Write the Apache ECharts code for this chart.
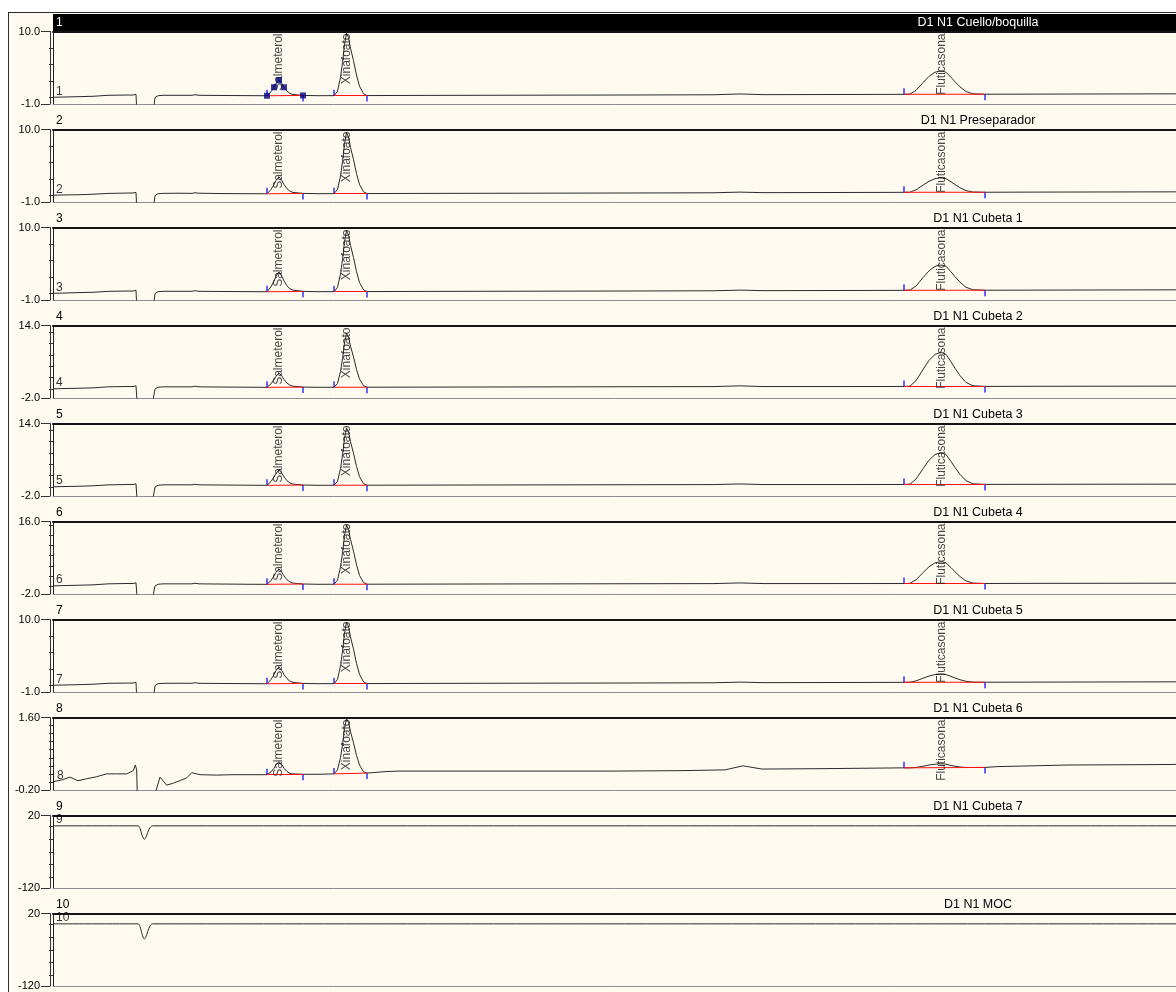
<!DOCTYPE html>
<html>
<head>
<meta charset="utf-8">
<title>D1 N1 - Cromatogramas</title>
<script src="https://cdn.jsdelivr.net/npm/echarts@6/dist/echarts.min.js"></script>
<style>
  html, body { margin: 0; padding: 0; background: #ffffff; overflow: hidden; }
  #chart { width: 1176px; height: 992px; }
</style>
</head>
<body>
<div id="chart"></div>
<script>
// ---- Panel captions and vertical ranges ----
const panelNumbers = ['1', '2', '3', '4', '5', '6', '7', '8', '9', '10'];
const panelTitles = [
  'D1 N1 Cuello/boquilla', 'D1 N1 Preseparador', 'D1 N1 Cubeta 1', 'D1 N1 Cubeta 2',
  'D1 N1 Cubeta 3', 'D1 N1 Cubeta 4', 'D1 N1 Cubeta 5', 'D1 N1 Cubeta 6',
  'D1 N1 Cubeta 7', 'D1 N1 MOC'
];
const yMin = [-1, -1, -1, -2, -2, -2, -1, -0.2, -120, -120];
const yMax = [10, 10, 10, 14, 14, 16, 10, 1.6, 20, 20];
const yDecimals = [1, 1, 1, 1, 1, 1, 1, 2, 0, 0];
const yMinorTicks = [
  [0, 2.5, 5, 7.5], [0, 2.5, 5, 7.5], [0, 2.5, 5, 7.5],
  [0, 2.5, 5, 7.5, 10, 12.5], [0, 2.5, 5, 7.5, 10, 12.5],
  [0, 2.5, 5, 7.5, 10, 12.5, 15], [0, 2.5, 5, 7.5],
  [0, 0.2, 0.4, 0.6, 0.8, 1.0, 1.2, 1.4],
  [-100, -75, -50, -25, 0], [-100, -75, -50, -25, 0]
];

// ---- Retention time (min) sampling shared by traces 1-7 ----
const tMain = [
  0.00, 0.12, 0.25, 0.40, 0.55, 0.72, 0.80, 0.83, 0.84, 0.85, 0.86, 0.99, 1.00, 1.02, 1.05, 1.10, 1.25, 1.39, 1.42, 1.46, 1.70, 1.95,
  2.14, 2.18, 2.21, 2.23, 2.26, 2.29, 2.31, 2.34, 2.37, 2.40, 2.50, 2.65,
  2.81, 2.845, 2.875, 2.895, 2.915, 2.935, 2.955, 2.975, 3.005, 3.035, 3.065, 3.105, 3.14,
  3.60, 4.60, 5.60, 6.60, 6.87, 7.10, 7.80, 8.40,
  8.51, 8.57, 8.63, 8.70, 8.76, 8.82, 8.86, 8.89, 8.93, 8.98, 9.02, 9.07, 9.13, 9.20, 9.32,
  9.80, 10.5, 11.5
];

// ---- Detector response, traces 1-7 ----
const trace1 = [
  0.02, 0.06, 0.11, 0.17, 0.32, 0.36, 0.36, 0.47, 0.71, -6, -6, -6, -2.5, -0.02, 0.26, 0.32, 0.32, 0.32, 0.41, 0.32, 0.29, 0.27,
  0.25, 0.84, 1.54, 2.08, 2.6, 2.06, 1.54, 0.96, 0.6, 0.44, 0.3, 0.26,
  0.27, 0.93, 3.02, 5.29, 8.03, 9.74, 9.08, 7.47, 5.57, 3.4, 1.69, 0.55, 0.28,
  0.3, 0.33, 0.36, 0.4, 0.52, 0.42, 0.44, 0.46,
  0.47, 0.51, 1.07, 2.24, 3.19, 3.82, 3.96, 4.0, 3.82, 3.05, 2.38, 1.6, 0.89, 0.54, 0.48,
  0.5, 0.52, 0.55
];
const trace2 = [
  0.03, 0.07, 0.1, 0.18, 0.3, 0.35, 0.37, 0.46, 0.7, -6, -6, -6, -2.5, -0.02, 0.25, 0.31, 0.33, 0.31, 0.4, 0.33, 0.28, 0.26,
  0.25, 0.89, 1.65, 2.24, 2.8, 2.21, 1.65, 1.02, 0.63, 0.45, 0.3, 0.26,
  0.27, 0.92, 2.95, 5.16, 7.84, 9.5, 8.85, 7.28, 5.44, 3.32, 1.65, 0.55, 0.28,
  0.3, 0.33, 0.36, 0.4, 0.5, 0.42, 0.44, 0.46,
  0.47, 0.49, 0.84, 1.56, 2.15, 2.54, 2.63, 2.65, 2.54, 2.06, 1.65, 1.17, 0.73, 0.51, 0.48,
  0.5, 0.52, 0.55
];
const trace3 = [
  0.02, 0.06, 0.12, 0.17, 0.31, 0.36, 0.36, 0.47, 0.72, -6, -6, -6, -2.5, -0.02, 0.26, 0.32, 0.32, 0.32, 0.41, 0.32, 0.29, 0.27,
  0.25, 1.0, 1.9, 2.59, 3.25, 2.56, 1.9, 1.15, 0.7, 0.49, 0.31, 0.26,
  0.27, 0.92, 2.95, 5.16, 7.84, 9.5, 8.85, 7.28, 5.44, 3.32, 1.65, 0.55, 0.28,
  0.3, 0.33, 0.36, 0.4, 0.5, 0.42, 0.44, 0.46,
  0.47, 0.51, 1.12, 2.39, 3.42, 4.11, 4.26, 4.3, 4.11, 3.27, 2.54, 1.7, 0.93, 0.55, 0.48,
  0.5, 0.52, 0.55
];
const trace4 = [
  0.02, 0.09, 0.15, 0.24, 0.46, 0.53, 0.53, 0.69, 1.04, -6, -6, -6, -2.5, -0.02, 0.38, 0.46, 0.46, 0.46, 0.6, 0.46, 0.42, 0.38,
  0.35, 1.14, 2.08, 2.81, 3.5, 2.78, 2.08, 1.3, 0.82, 0.6, 0.41, 0.36,
  0.37, 1.21, 3.83, 6.69, 10.15, 12.3, 11.46, 9.44, 7.05, 4.31, 2.16, 0.73, 0.38,
  0.4, 0.44, 0.48, 0.52, 0.68, 0.53, 0.53, 0.54,
  0.55, 0.62, 1.82, 4.28, 6.29, 7.63, 7.93, 8.0, 7.63, 5.99, 4.57, 2.93, 1.44, 0.7, 0.56,
  0.58, 0.6, 0.62
];
const trace5 = [
  0.03, 0.09, 0.14, 0.25, 0.45, 0.53, 0.54, 0.68, 1.03, -6, -6, -6, -2.5, -0.02, 0.38, 0.46, 0.47, 0.46, 0.6, 0.46, 0.42, 0.38,
  0.35, 1.2, 2.22, 3.0, 3.75, 2.97, 2.22, 1.37, 0.86, 0.62, 0.42, 0.36,
  0.37, 1.25, 4.03, 7.06, 10.73, 13.0, 12.12, 9.97, 7.44, 4.54, 2.26, 0.75, 0.38,
  0.4, 0.44, 0.48, 0.52, 0.66, 0.53, 0.53, 0.54,
  0.55, 0.62, 1.73, 4.03, 5.9, 7.15, 7.43, 7.5, 7.15, 5.62, 4.3, 2.77, 1.38, 0.69, 0.56,
  0.58, 0.6, 0.62
];
const trace6 = [
  0.02, 0.1, 0.17, 0.27, 0.52, 0.6, 0.6, 0.77, 1.17, -6, -6, -6, -2.5, -0.02, 0.42, 0.52, 0.52, 0.52, 0.67, 0.52, 0.47, 0.42,
  0.4, 1.35, 2.49, 3.36, 4.2, 3.33, 2.49, 1.54, 0.97, 0.7, 0.48, 0.41,
  0.42, 1.45, 4.68, 8.2, 12.46, 15.1, 14.07, 11.58, 8.64, 5.26, 2.62, 0.86, 0.43,
  0.45, 0.5, 0.54, 0.58, 0.75, 0.59, 0.59, 0.6,
  0.6, 0.65, 1.52, 3.3, 4.76, 5.73, 5.95, 6.0, 5.73, 4.54, 3.52, 2.33, 1.25, 0.71, 0.61,
  0.64, 0.66, 0.69
];
const trace7 = [
  0.02, 0.07, 0.11, 0.18, 0.32, 0.35, 0.36, 0.47, 0.7, -6, -6, -6, -2.5, -0.02, 0.26, 0.32, 0.33, 0.32, 0.41, 0.32, 0.29, 0.27,
  0.25, 0.89, 1.65, 2.24, 2.8, 2.21, 1.65, 1.02, 0.63, 0.45, 0.3, 0.26,
  0.27, 0.92, 2.98, 5.21, 7.92, 9.6, 8.95, 7.36, 5.49, 3.35, 1.67, 0.55, 0.28,
  0.3, 0.33, 0.36, 0.4, 0.5, 0.42, 0.44, 0.46,
  0.47, 0.48, 0.68, 1.09, 1.42, 1.64, 1.69, 1.7, 1.64, 1.37, 1.13, 0.86, 0.62, 0.49, 0.48,
  0.5, 0.52, 0.55
];

// ---- Trace 8 (Cubeta 6) has its own sampling ----
const tCubeta6 = [
  0.01, 0.087, 0.17, 0.25, 0.337, 0.437, 0.537, 0.637, 0.737, 0.803, 0.823, 0.837, 0.845, 1.00, 1.02, 1.07, 1.137, 1.203, 1.287, 1.337, 1.387, 1.47, 1.637, 1.80, 1.97, 2.14,
  2.18, 2.21, 2.23, 2.26, 2.29, 2.31, 2.34, 2.37, 2.40, 2.50, 2.65,
  2.81, 2.845, 2.875, 2.895, 2.915, 2.935, 2.955, 2.975, 3.005, 3.035, 3.065, 3.105, 3.14,
  3.34, 3.47, 4.60, 5.60, 6.27, 6.72, 6.90, 7.09, 7.70, 8.51,
  8.57, 8.63, 8.70, 8.76, 8.82, 8.86, 8.89, 8.93, 8.98, 9.02, 9.07, 9.13, 9.20, 9.32,
  9.44, 10.15, 10.95, 11.5
];
const trace8 = [
  0.01, 0.05, 0.12, 0.03, 0.08, 0.13, 0.2, 0.2, 0.2, 0.28, 0.42, 0.3, -0.6, -0.6, -0.3, 0.12, -0.08, -0.03, 0.05, 0.1, 0.23, 0.18, 0.17, 0.18, 0.18, 0.18,
  0.25, 0.34, 0.43, 0.5, 0.43, 0.34, 0.26, 0.21, 0.2, 0.19, 0.19,
  0.2, 0.3, 0.6, 0.93, 1.33, 1.57, 1.48, 1.25, 0.97, 0.66, 0.42, 0.25, 0.22,
  0.26, 0.27, 0.27, 0.27, 0.28, 0.3, 0.4, 0.32, 0.33, 0.35,
  0.35, 0.36, 0.39, 0.42, 0.44, 0.45, 0.45, 0.44, 0.41, 0.39, 0.37, 0.36, 0.36, 0.36,
  0.38, 0.42, 0.43, 0.44
];

// ---- Traces 9 and 10 (Cubeta 7, MOC): flat with the injection dip ----
const tDip = [0.00, 0.85, 0.87, 0.887, 0.903, 0.913, 0.927, 0.947, 0.97, 0.997, 11.5];
const trace9 = [0, 0, -4.6, -16, -24, -26, -23, -13, -3.5, 0, 0];
const trace10 = [0, 0, -5, -17, -27, -29, -26, -15, -4, 0, 0];

// ---- Integrated peaks ----
const peakNames = ['Salmeterol', 'Xinafoato', 'Fluticasona'];
const peakApex = [2.26, 2.935, 8.89];
const peakStart = [2.14, 2.81, 8.51];
const peakEnd = [2.50, 3.14, 9.32];
const peakPanels = 8;                         // panels 1-8 carry integration marks
const selectedPeakTimes = [2.14, 2.21, 2.26, 2.31, 2.50];   // Salmeterol handles in panel 1

const traceTimes = [tMain, tMain, tMain, tMain, tMain, tMain, tMain, tCubeta6, tDip, tDip];
const traceValues = [trace1, trace2, trace3, trace4, trace5, trace6, trace7, trace8, trace9, trace10];

// ---- Layout ----
const PLOT_LEFT = 53;
const FIRST_TOP = 31.5;
const PITCH = 98;
const PLOT_H = 72.5;
const X_MAX = 11.5;
const PLOT_W = 1150;          // runs past the right edge of the page
const CREAM = '#fefaf0';
const FONT = '"Liberation Sans", Arial, sans-serif';

const valueAt = (times, values, t) => values[times.indexOf(t)];

const grids = [], xAxes = [], yAxes = [], series = [], graphics = [];

graphics.push(
  { type: 'rect', shape: { x: 0, y: 0, width: 8, height: 992 }, style: { fill: '#ffffff' }, silent: true },
  { type: 'rect', shape: { x: 0, y: 0, width: 1176, height: 12 }, style: { fill: '#ffffff' }, silent: true },
  { type: 'line', shape: { x1: 8.5, y1: 12, x2: 8.5, y2: 992 }, style: { stroke: '#2e2e2e', lineWidth: 1 }, silent: true },
  { type: 'line', shape: { x1: 8, y1: 12.5, x2: 1176, y2: 12.5 }, style: { stroke: '#2e2e2e', lineWidth: 1 }, silent: true },
  { type: 'rect', shape: { x: PLOT_LEFT, y: 14, width: 1130, height: 17 }, style: { fill: '#000000' }, z: 10, silent: true }
);

for (let i = 0; i < 10; i++) {
  const top = FIRST_TOP + PITCH * i;
  grids.push({ left: PLOT_LEFT, top: top, height: PLOT_H, width: PLOT_W,
    containLabel: false, outerBoundsMode: 'none' });

  const xBase = { type: 'value', gridIndex: i, min: 0, max: X_MAX, axisTick: { show: false },
    axisLabel: { show: false }, splitLine: { show: false } };
  xAxes.push(Object.assign({}, xBase, { position: 'bottom',
    axisLine: { show: true, onZero: false, lineStyle: { color: '#8e8e8e', width: 1 } } }));
  xAxes.push(Object.assign({}, xBase, { position: 'top',
    axisLine: { show: true, onZero: false, lineStyle: { color: '#141414', width: 2 } } }));

  const yBase = { type: 'value', gridIndex: i, min: yMin[i], max: yMax[i], position: 'left',
    splitLine: { show: false } };
  // scale with the end labels and long end ticks
  yAxes.push(Object.assign({}, yBase, { offset: 3,
    axisLine: { show: true, onZero: false, lineStyle: { color: '#333333', width: 1 } },
    axisTick: { show: true, length: 9, customValues: [yMin[i], yMax[i]], lineStyle: { color: '#333333' } },
    axisLabel: { show: true, customValues: [yMin[i], yMax[i]], margin: 10, color: '#000000',
      fontSize: 11, fontFamily: FONT, formatter: (v) => Number(v).toFixed(yDecimals[i]) } }));
  // short intermediate ticks
  yAxes.push(Object.assign({}, yBase, { offset: 3,
    axisLine: { show: false },
    axisTick: { show: true, length: 4, customValues: yMinorTicks[i], lineStyle: { color: '#333333' } },
    axisLabel: { show: false } }));
  // left edge of the plot frame
  yAxes.push(Object.assign({}, yBase, { offset: 0,
    axisLine: { show: true, onZero: false, lineStyle: { color: '#222222', width: 1 } },
    axisTick: { show: false }, axisLabel: { show: false } }));

  const xi = 2 * i, yi = 3 * i;
  const times = traceTimes[i], vals = traceValues[i];

  // chromatogram trace
  series.push({
    type: 'line', xAxisIndex: xi, yAxisIndex: yi, z: 2, silent: true,
    showSymbol: false, symbol: 'none', clip: true,
    smooth: i >= 8 ? 0.35 : false,
    lineStyle: { color: '#2b2b2b', width: 1 },
    data: times.map((t, k) => [t, vals[k]])
  });

  // trace number next to its first sample
  series.push({
    type: 'scatter', xAxisIndex: xi, yAxisIndex: yi, z: 5, silent: true, clip: false,
    symbolSize: 0, itemStyle: { color: 'rgba(0,0,0,0)' },
    label: { show: true, position: 'inside', align: 'left', verticalAlign: 'bottom',
      padding: [0, 0, 0, 3], color: '#000000', fontSize: 12, fontFamily: FONT,
      formatter: (p) => p.data[2] },
    data: [[times[0], vals[0], panelNumbers[i]]]
  });

  if (i < peakPanels) {
    // integration baselines
    series.push({
      type: 'line', xAxisIndex: xi, yAxisIndex: yi, z: 3, silent: true, data: [],
      markLine: {
        silent: true, symbol: ['none', 'none'], animation: false,
        label: { show: false },
        lineStyle: { color: '#ff1010', width: 1, type: 'solid' },
        emphasis: { disabled: true },
        data: peakStart.map((s, k) => [
          { coord: [s, valueAt(times, vals, s)] },
          { coord: [peakEnd[k], valueAt(times, vals, peakEnd[k])] }
        ])
      }
    });
    // peak start / end marks
    series.push({
      type: 'scatter', xAxisIndex: xi, yAxisIndex: yi, z: 4, silent: true,
      symbol: 'rect', symbolSize: [1.5, 6], symbolOffset: [0, -3],
      itemStyle: { color: '#0000ff' },
      data: peakStart.map((s) => [s, valueAt(times, vals, s)])
    });
    series.push({
      type: 'scatter', xAxisIndex: xi, yAxisIndex: yi, z: 4, silent: true,
      symbol: 'rect', symbolSize: [1.5, 6], symbolOffset: [0, 3],
      itemStyle: { color: '#0000ff' },
      data: peakEnd.map((e) => [e, valueAt(times, vals, e)])
    });
    // peak names, written upward from the top edge
    series.push({
      type: 'scatter', xAxisIndex: xi, yAxisIndex: yi, z: 5, silent: true, clip: false,
      symbolSize: 0, itemStyle: { color: 'rgba(0,0,0,0)' },
      label: { show: true, position: 'inside', rotate: 90, align: 'right', verticalAlign: 'middle',
        padding: [0, 2, 0, 0], color: '#141414', fontSize: 12, fontFamily: FONT,
        formatter: (p) => p.data[2] },
      data: peakApex.map((t, k) => [t, yMax[i], peakNames[k]])
    });
  }

  if (i === 0) {
    // selected peak handles
    series.push({
      type: 'scatter', xAxisIndex: xi, yAxisIndex: yi, z: 6, silent: true,
      symbol: 'rect', symbolSize: 6, itemStyle: { color: '#050580' },
      data: selectedPeakTimes.map((t) => [t, valueAt(times, vals, t)])
    });
  }

  // panel number and title above each plot
  const captionColor = i === 0 ? '#ffffff' : '#000000';
  const captionY = i === 0 ? 22.5 : top - 9;
  graphics.push({
    type: 'text', x: 56, y: captionY, z: 11, silent: true,
    style: { text: panelNumbers[i], fill: captionColor, font: '12px ' + FONT,
      align: 'left', verticalAlign: 'middle' }
  });
  graphics.push({
    type: 'text', x: 978, y: captionY, z: 11, silent: true,
    style: { text: panelTitles[i], fill: captionColor, font: '12.5px ' + FONT,
      align: 'center', verticalAlign: 'middle' }
  });
}

const chart = echarts.init(document.getElementById('chart'), null, { renderer: 'canvas' });
chart.setOption({
  backgroundColor: CREAM,
  animation: false,
  grid: grids,
  xAxis: xAxes,
  yAxis: yAxes,
  series: series,
  graphic: { elements: graphics }
});
</script>
</body>
</html>
